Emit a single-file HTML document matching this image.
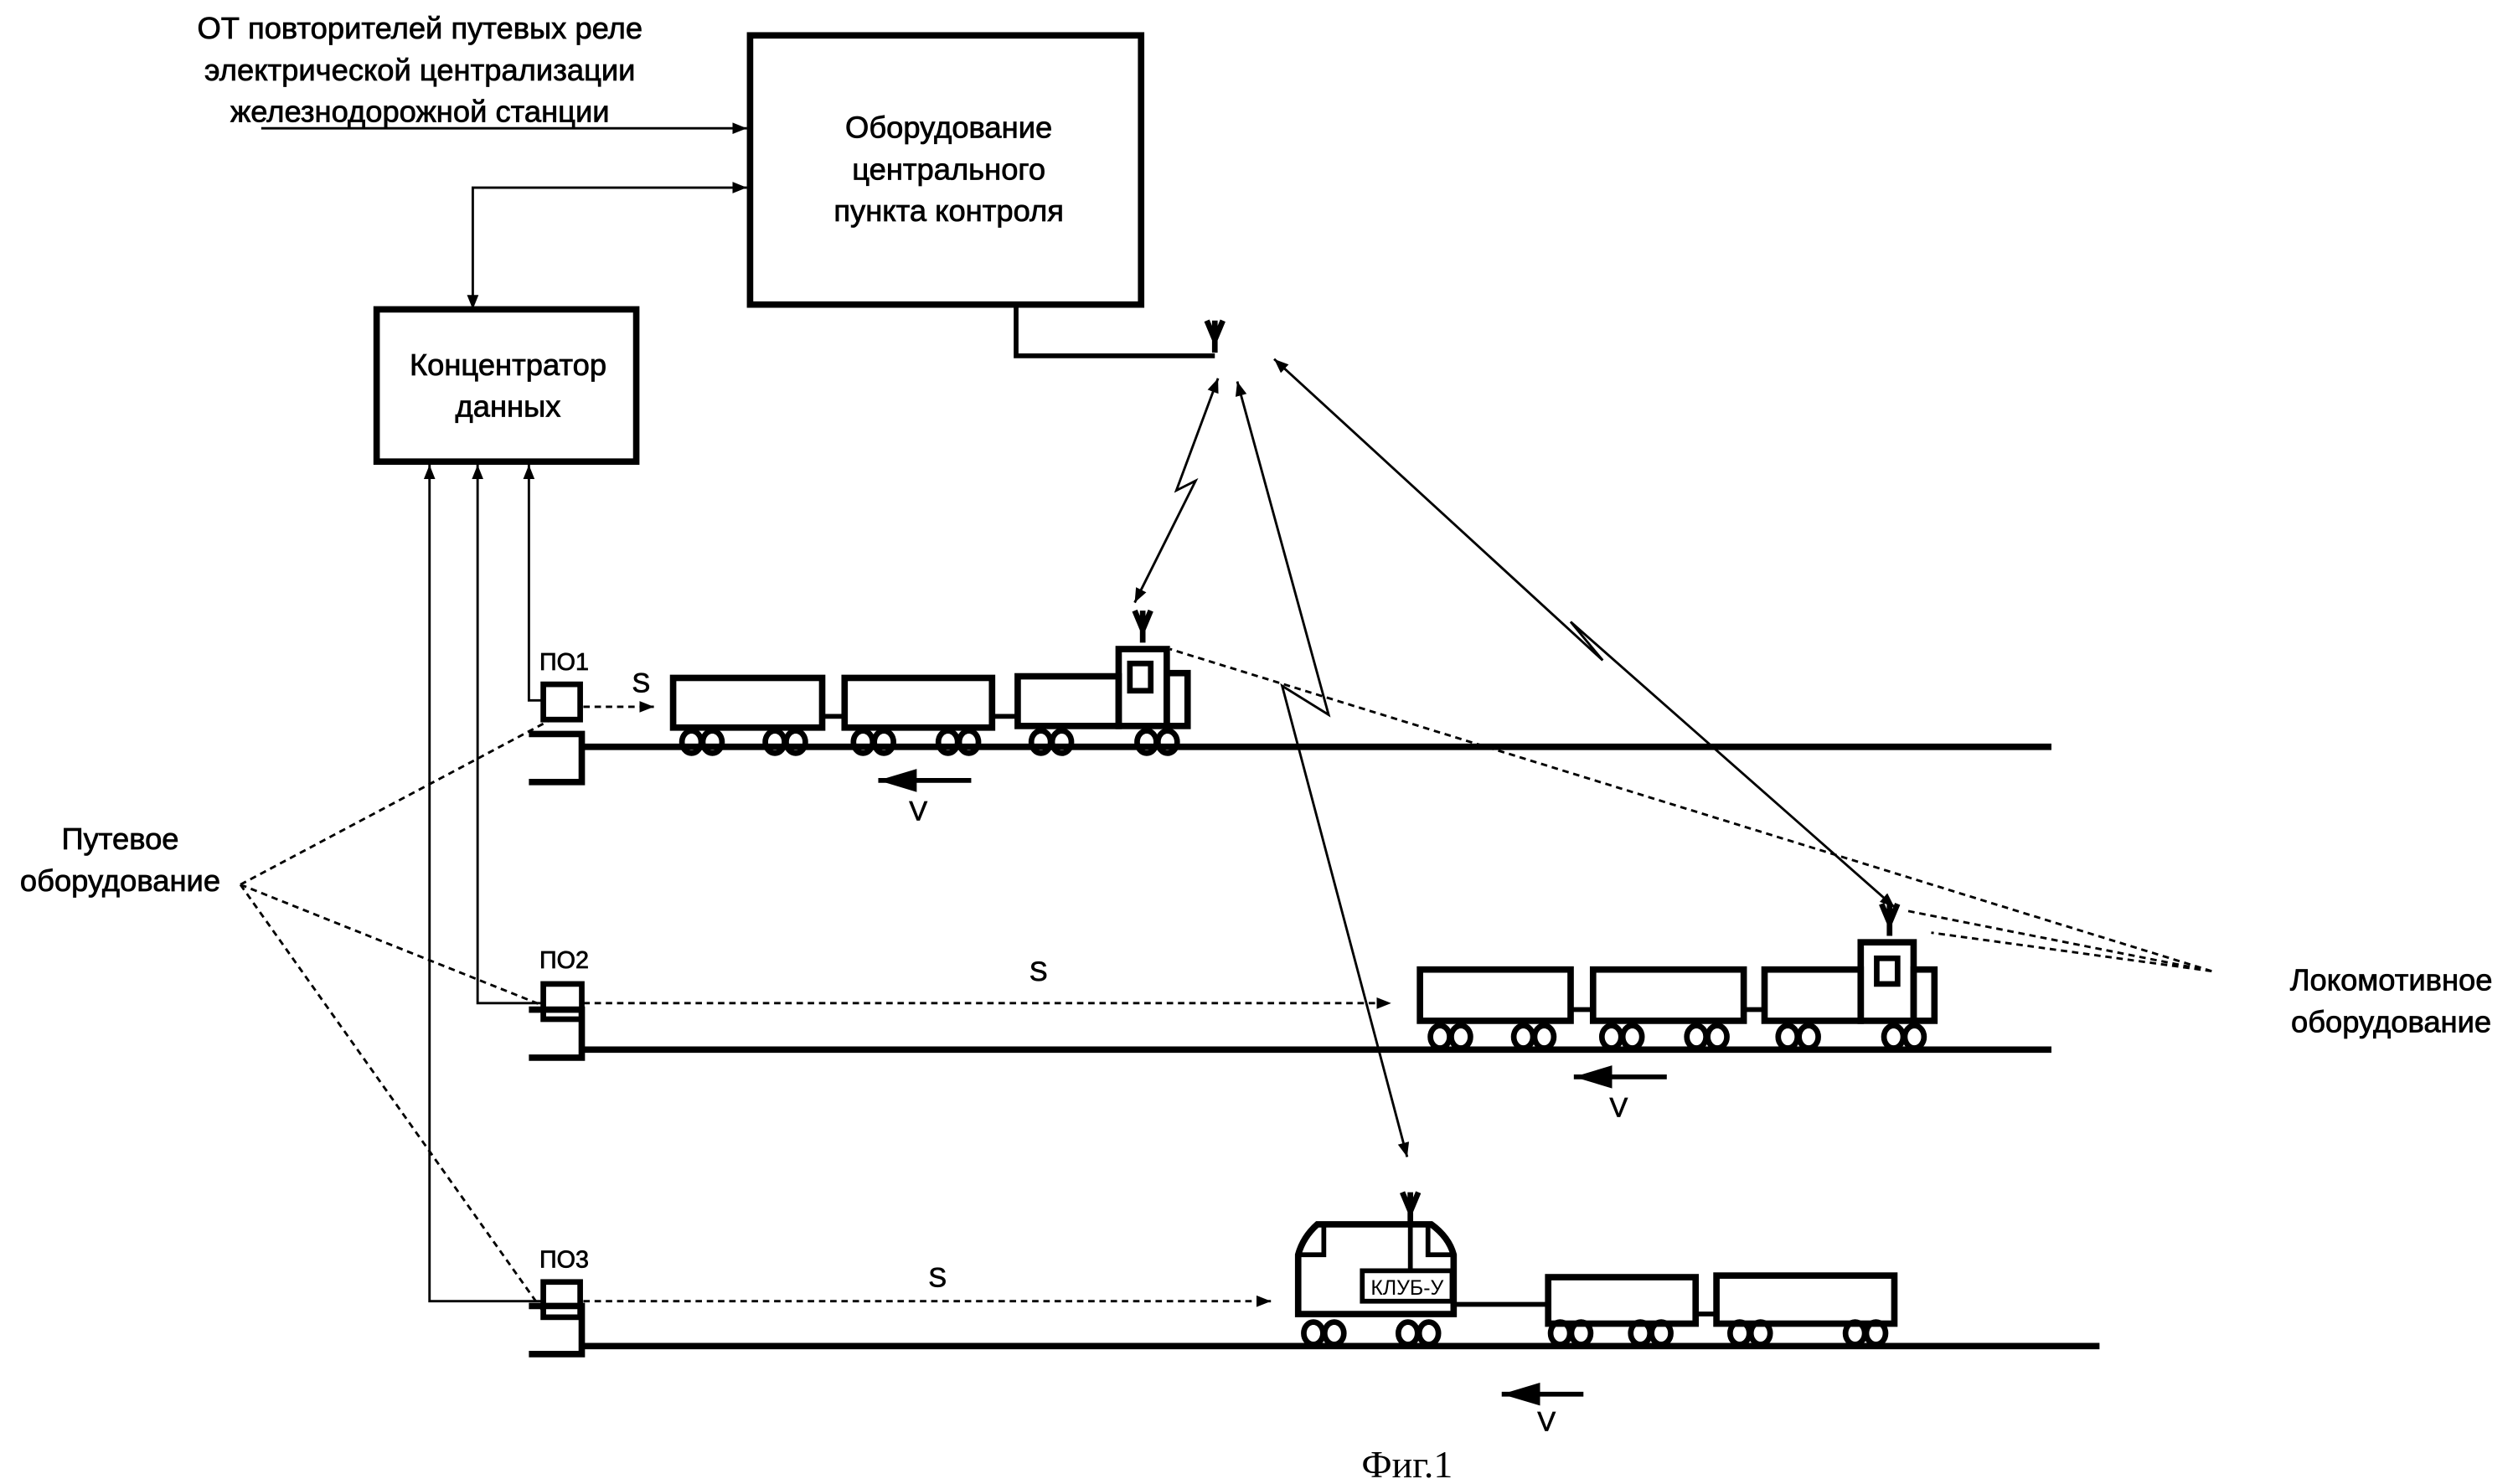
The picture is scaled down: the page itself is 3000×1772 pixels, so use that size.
<!DOCTYPE html>
<html><head><meta charset="utf-8"><style>html,body{margin:0;padding:0;background:#fff}svg{display:block}</style></head>
<body>
<svg width="3000" height="1772" viewBox="0 0 1568 926" xmlns="http://www.w3.org/2000/svg" font-family="Liberation Sans, Noto Sans CJK SC, sans-serif">
<defs>
<marker id="a" viewBox="0 0 10 10" refX="10" refY="5" markerWidth="9" markerHeight="9" markerUnits="userSpaceOnUse" orient="auto-start-reverse"><path d="M0,1 L10,5 L0,9 z" fill="#000"/></marker>
<marker id="b" viewBox="0 0 10 10" refX="10" refY="5" markerWidth="24" markerHeight="24" markerUnits="userSpaceOnUse" orient="auto"><path d="M0,2 L10,5 L0,8 z" fill="#000"/></marker>
<g id="wh"><ellipse cx="-6.5" cy="0" rx="6" ry="7" fill="none" stroke="#000" stroke-width="3.5"/><ellipse cx="6.5" cy="0" rx="6" ry="7" fill="none" stroke="#000" stroke-width="3.5"/></g>
<g id="ant"><path d="M-5,-12 L0,0 L5,-12 M0,-12 L0,8" stroke="#000" stroke-width="3.5" fill="none"/></g>
</defs>
<g fill="#000" stroke="#000" stroke-width="0.4" font-size="19" text-anchor="middle">
<text x="262" y="24">ОТ повторителей путевых реле</text>
<text x="262" y="50">электрической централизации</text>
<text x="262" y="76">железнодорожной станции</text>
<text x="592" y="86">Оборудование</text>
<text x="592" y="112">центрального</text>
<text x="592" y="138">пункта контроля</text>
<text x="317" y="234">Концентратор</text>
<text x="317" y="260">данных</text>
<text x="75" y="530">Путевое</text>
<text x="75" y="556">оборудование</text>
<text x="1492" y="618">Локомотивное</text>
<text x="1492" y="644">оборудование</text>
<text x="352" y="418" font-size="15">ПО1</text>
<text x="352" y="604" font-size="15">ПО2</text>
<text x="352" y="791" font-size="15">ПО3</text>
<text x="400" y="432" font-size="17">S</text>
<text x="648" y="612" font-size="17">S</text>
<text x="585" y="803" font-size="17">S</text>
<text x="573" y="512" font-size="17">V</text>
<text x="1010" y="697" font-size="17">V</text>
<text x="965" y="893" font-size="17">V</text>
<text x="878" y="922" font-size="24" stroke-width="0" font-family="Liberation Serif, serif">Фиг.1</text>
</g>
<g fill="none" stroke="#000">
<rect x="468" y="22" width="244" height="168" stroke-width="4"/>
<rect x="235" y="193" width="162" height="95" stroke-width="4"/>
<path d="M634,190 V222 H758" stroke-width="3"/>
<use href="#ant" x="758" y="212"/>
<path d="M163,80 H466" stroke-width="1.5" marker-end="url(#a)"/>
<path d="M466,117 H295 V193" stroke-width="1.5" marker-start="url(#a)" marker-end="url(#a)"/>
<path d="M338,437 H330 V290" stroke-width="1.5" marker-end="url(#a)"/>
<path d="M338,626 H298 V290" stroke-width="1.5" marker-end="url(#a)"/>
<path d="M338,812 H268 V290" stroke-width="1.5" marker-end="url(#a)"/>
<path d="M760,236 L734,306 L746,300 L708,376" stroke-width="1.5" marker-start="url(#a)" marker-end="url(#a)"/>
<path d="M772,238 L829,446 L800,428 L878,722" stroke-width="1.5" marker-start="url(#a)" marker-end="url(#a)"/>
<path d="M795,224 L1000,412 L980,388 L1182,566" stroke-width="1.5" marker-start="url(#a)" marker-end="url(#a)"/>
<g stroke-dasharray="4,3" stroke-width="1.5">
<path d="M150,552 L342,450 M150,552 L340,628 M150,552 L340,820"/>
<path d="M1380,606 L730,405 M1380,606 L1188,568 M1380,606 L1205,582"/>
<path d="M364,441 H408" marker-end="url(#a)"/>
<path d="M364,626 H868" marker-end="url(#a)"/>
<path d="M364,812 H793" marker-end="url(#a)"/>
</g>
<path d="M363,466 H1280 M330,458 H363 V488 H330" stroke-width="4"/>
<path d="M363,655 H1280 M330,630 H363 V660 H330" stroke-width="4"/>
<path d="M363,840 H1310 M330,815 H363 V845 H330" stroke-width="4"/>
<rect x="339" y="427" width="23" height="22" stroke-width="3.5"/>
<rect x="339" y="614" width="24" height="22" stroke-width="3.5"/>
<rect x="339" y="800" width="23" height="22" stroke-width="3.5"/>
<path d="M606,487 H548" stroke-width="3" marker-end="url(#b)"/>
<path d="M1040,672 H982" stroke-width="3" marker-end="url(#b)"/>
<path d="M988,870 H937" stroke-width="3" marker-end="url(#b)"/>
<rect x="420" y="423" width="93" height="31" stroke-width="4"/>
<rect x="527" y="423" width="92" height="31" stroke-width="4"/>
<rect x="635" y="422" width="63" height="31" stroke-width="4"/>
<rect x="698" y="405" width="30" height="48" stroke-width="4"/>
<rect x="728" y="420" width="13" height="33" stroke-width="4"/>
<rect x="705" y="414" width="13" height="17" stroke-width="3.5"/>
<path d="M513,447 H527 M619,447 H635" stroke-width="3"/>
<use href="#ant" x="713" y="393"/>
<use href="#wh" x="438" y="463"/><use href="#wh" x="490" y="463"/><use href="#wh" x="545" y="463"/><use href="#wh" x="598" y="463"/><use href="#wh" x="656" y="463"/><use href="#wh" x="722" y="463"/>
<rect x="886" y="605" width="94" height="32" stroke-width="4"/>
<rect x="994" y="605" width="94" height="32" stroke-width="4"/>
<rect x="1101" y="605" width="60" height="32" stroke-width="4"/>
<rect x="1161" y="588" width="33" height="49" stroke-width="4"/>
<rect x="1194" y="605" width="13" height="32" stroke-width="4"/>
<rect x="1171" y="598" width="13" height="16" stroke-width="3.5"/>
<path d="M980,630 H994 M1088,630 H1101" stroke-width="3"/>
<use href="#ant" x="1179" y="576"/>
<use href="#wh" x="905" y="647"/><use href="#wh" x="957" y="647"/><use href="#wh" x="1012" y="647"/><use href="#wh" x="1065" y="647"/><use href="#wh" x="1122" y="647"/><use href="#wh" x="1188" y="647"/>
<path d="M810,820 V783 Q813,772 822,764 H893 Q904,772 907,783 V820 Z" stroke-width="4"/>
<path d="M811,783 H826 V764 M906,783 H891 V764" stroke-width="3"/>
<rect x="850" y="793" width="56" height="19" stroke-width="3"/>
<text x="878" y="808" font-size="13" fill="#000" stroke="none" text-anchor="middle">КЛУБ-У</text>
<path d="M880,793 V760" stroke-width="3"/>
<use href="#ant" x="880" y="756"/>
<rect x="966" y="797" width="92" height="29" stroke-width="4"/>
<rect x="1071" y="796" width="111" height="30" stroke-width="4"/>
<path d="M907,814 H966 M1058,820 H1071" stroke-width="3"/>
<use href="#wh" x="826" y="832"/><use href="#wh" x="885" y="832"/><use href="#wh" x="980" y="832"/><use href="#wh" x="1030" y="832"/><use href="#wh" x="1092" y="832"/><use href="#wh" x="1164" y="832"/>
</g>
</svg>
</body></html>
